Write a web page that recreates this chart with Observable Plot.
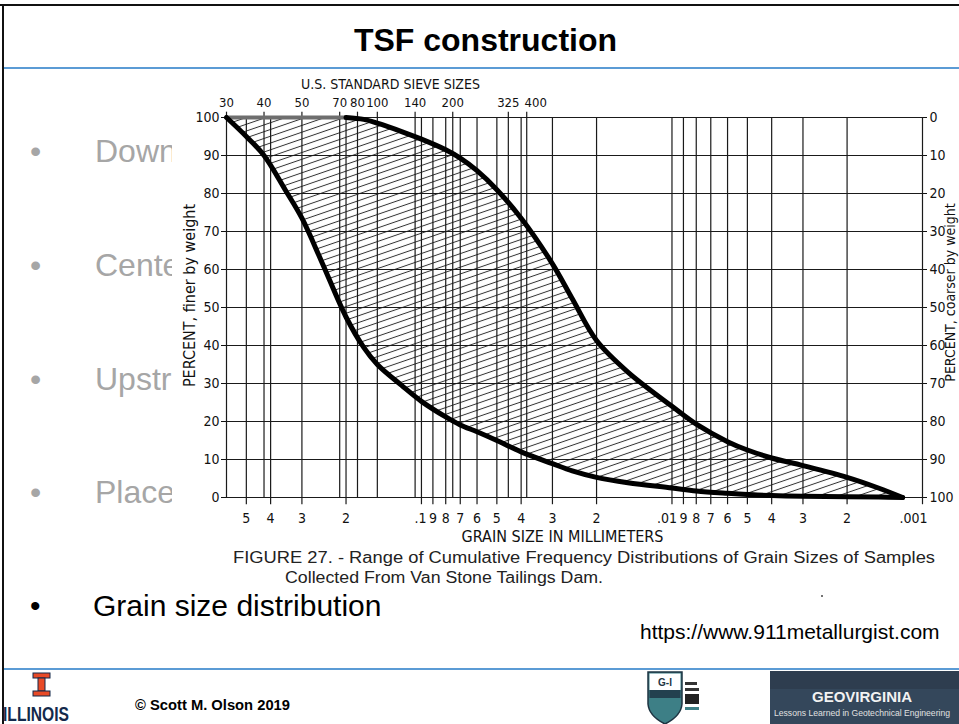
<!DOCTYPE html>
<html><head><meta charset="utf-8">
<script src="https://cdn.jsdelivr.net/npm/d3@7"></script>
<script src="https://cdn.jsdelivr.net/npm/@observablehq/plot@0.6"></script>
<style>
body{margin:0;background:#fff;}
#slide{position:relative;width:959px;height:724px;overflow:hidden;background:#fff;font-family:"Liberation Sans",Arial,sans-serif;}
.abs{position:absolute;white-space:nowrap;}
.gb{color:#a6a6a6;font-size:32px;line-height:32px;}
#chart{width:800px;height:473px;}
#chart svg{max-width:none;display:block;}
</style></head><body>
<svg width="0" height="0" style="position:absolute">
  <defs>
    <pattern id="hatch" patternUnits="userSpaceOnUse" width="20" height="6.4" patternTransform="rotate(-19)">
      <line x1="0" y1="3.2" x2="20" y2="3.2" stroke="#333" stroke-width="1"/>
    </pattern>
  </defs>
</svg>
<div id="slide">
  <div class="abs" style="left:0;top:4px;width:959px;height:2px;background:#111"></div>
  <div class="abs" style="left:2px;top:4px;width:2px;height:720px;background:#111"></div>
  <div class="abs" style="left:6px;top:24px;width:959px;text-align:center;font-weight:bold;font-size:32px;line-height:32px;color:#000">TSF construction</div>
  <div class="abs" style="left:4px;top:67px;width:955px;height:2px;background:#5b9bd5"></div>

  <div class="abs gb" style="left:30px;top:135px">•</div><div class="abs gb" style="left:95px;top:135px">Down</div>
  <div class="abs gb" style="left:30px;top:249px">•</div><div class="abs gb" style="left:95px;top:249px">Cente</div>
  <div class="abs gb" style="left:30px;top:363px">•</div><div class="abs gb" style="left:95px;top:363px">Upstr</div>
  <div class="abs gb" style="left:30px;top:476px">•</div><div class="abs gb" style="left:95px;top:476px">Place</div>

  <div id="chart" class="abs" style="left:172px;top:72px"></div>

  <svg class="abs" style="left:0;top:540px" width="959" height="60">
    <text x="233" y="23" font-family="Liberation Sans, Arial, sans-serif" font-size="16" fill="#222" textLength="702" lengthAdjust="spacingAndGlyphs">FIGURE 27. - Range of Cumulative Frequency Distributions of Grain Sizes of Samples</text>
    <text x="285" y="43" font-family="Liberation Sans, Arial, sans-serif" font-size="16" fill="#222" textLength="318" lengthAdjust="spacingAndGlyphs">Collected From Van Stone Tailings Dam.</text>
    <circle cx="822" cy="56" r="1" fill="#444"/>
  </svg>

  <div class="abs" style="left:30px;top:591px;font-size:30px;line-height:30px;color:#000">•</div>
  <div class="abs" style="left:93px;top:591px;font-size:30px;line-height:30px;color:#000">Grain size distribution</div>
  <div class="abs" style="left:640px;top:621px;font-size:21px;line-height:21px;color:#000">https://www.911metallurgist.com</div>

  <div class="abs" style="left:4px;top:668px;width:955px;height:2px;background:#5b9bd5"></div>

  <svg class="abs" style="left:0;top:660px" width="959" height="64">
    <g fill="#E84A27" stroke="#13294B" stroke-width="1">
      <rect x="33" y="13" width="17" height="5"/>
      <rect x="38" y="18" width="7" height="13"/>
      <rect x="33" y="31" width="17" height="5"/>
    </g>
    <text x="3" y="61" font-family="Liberation Sans, sans-serif" font-weight="bold" font-size="20" fill="#13294B" textLength="66" lengthAdjust="spacingAndGlyphs">ILLINOIS</text>
    <text x="135" y="50" font-family="Liberation Sans, Arial, sans-serif" font-weight="bold" font-size="14" fill="#000" textLength="155" lengthAdjust="spacingAndGlyphs">© Scott M. Olson 2019</text>
    <path d="M648,12 L682,12 L682,44 Q681,56 665,64 Q649,56 648,44 Z" fill="#3d7f86" stroke="#1e3442" stroke-width="1.5"/>
    <path d="M649.5,13.5 L680.5,13.5 L680.5,30 L649.5,30 Z" fill="#fff"/>
    <path d="M649.5,30 L680.5,30 L680.5,38 L649.5,38 Z" fill="#23404f"/>
    <text x="665" y="26" text-anchor="middle" font-family="Liberation Sans, sans-serif" font-weight="bold" font-size="10" fill="#1e3442">G-I</text>
    <rect x="685" y="22" width="12" height="3" fill="#333"/>
    <rect x="685" y="28" width="14" height="3" fill="#333"/>
    <rect x="685" y="34" width="14" height="10" fill="#222"/>
    <rect x="685" y="47" width="14" height="3" fill="#3d7f86"/>
    <rect x="770" y="11" width="189" height="53" fill="#34475b"/>
    <rect x="770" y="11" width="189" height="18" fill="#2e3d4f"/>
    <text x="862" y="42" text-anchor="middle" font-family="Liberation Sans, sans-serif" font-weight="bold" font-size="15" fill="#f2f2f2">GEOVIRGINIA</text>
    <text x="774" y="56" font-family="Liberation Sans, sans-serif" font-size="9" fill="#e0e0e0" textLength="176" lengthAdjust="spacingAndGlyphs">Lessons Learned in Geotechnical Engineering</text>
  </svg>
</div>
<script>
// grain diameters (mm) at which both curves are read
const diameters = [0.6, 0.5, 0.425, 0.35, 0.3, 0.25, 0.2, 0.17, 0.15, 0.12, 0.1, 0.08, 0.07, 0.06, 0.05, 0.04, 0.03, 0.025, 0.02, 0.015, 0.01, 0.008, 0.006, 0.005, 0.004, 0.003, 0.002, 0.0015, 0.0012];
// percent finer — coarse (left) envelope
const coarsePct = [100, 95, 90, 81, 73.5, 62, 47.5, 39.5, 35, 29.5, 25.3, 21.2, 19.1, 17.3, 15, 12, 8.9, 7, 5.3, 3.9, 2.5, 1.7, 1.1, 0.8, 0.5, 0.3, 0.2, 0.1, 0];
// percent finer — fine (right) envelope
const finePct = [100, 100, 100, 100, 100, 100, 100, 99.5, 98.5, 96.3, 94.3, 91.5, 89.3, 86, 81, 73.5, 61.5, 52.3, 41.3, 33, 24, 19.3, 14.7, 12.5, 10.4, 8.4, 5.3, 2.5, 0];

// axes
const pctTicks = [0, 10, 20, 30, 40, 50, 60, 70, 80, 90, 100];
const mmDigitTicks = [0.5, 0.4, 0.3, 0.2, 0.09, 0.08, 0.07, 0.06, 0.05, 0.04, 0.03, 0.02, 0.009, 0.008, 0.007, 0.006, 0.005, 0.004, 0.003, 0.002];
const mmDigitLabels = ["5", "4", "3", "2", "9", "8", "7", "6", "5", "4", "3", "2", "9", "8", "7", "6", "5", "4", "3", "2"];
const mmDecadeTicks = [0.1, 0.01, 0.001];
const mmDecadeLabels = [".1", ".01", ".001"];
const sieveMm = [0.6, 0.425, 0.3, 0.212, 0.18, 0.15, 0.106, 0.075, 0.045, 0.038];
const sieveLabels = ["30", "40", "50", "70", "80", "100", "140", "200", "325", "400"];

const rows = diameters.map((d, i) => ({d, coarse: coarsePct[i], fine: finePct[i]}));
const mmTicks = [...mmDigitTicks, ...mmDecadeTicks];
const gridX = Array.from(new Set([...sieveMm, ...mmTicks]));
const sieveMain = sieveMm.slice(0, -1), sieveLast = sieveMm.slice(-1);
const chartFont = '"Liberation Sans Narrow","DejaVu Sans Condensed","Liberation Sans",sans-serif';
const curve = "catmull-rom";

const chart = Plot.plot({
  width: 800,
  height: 473,
  marginTop: 45,
  marginBottom: 48,
  marginLeft: 54,
  marginRight: 50,
  style: {background: "white", fontFamily: chartFont, fontSize: "14px", color: "#111", overflow: "visible"},
  x: {type: "log", domain: [0.6, 0.001], axis: null},
  y: {domain: [0, 100], axis: null},
  marks: [
    Plot.areaY(rows, {x: "d", y1: "coarse", y2: "fine", fill: "url(#hatch)", curve}),
    Plot.ruleX(gridX, {stroke: "#1a1a1a", strokeWidth: 1.2}),
    Plot.ruleY(pctTicks, {stroke: "#1a1a1a", strokeWidth: 1.2}),
    Plot.axisY(pctTicks, {anchor: "left", tickSize: 5, tickPadding: 2, label: null, fontSize: 14}),
    Plot.axisY(pctTicks, {anchor: "right", tickSize: 4, tickPadding: 3, label: null, fontSize: 14, tickFormat: d => String(100 - d)}),
    // bottom ticks and labels (mm)
    Plot.ruleX(mmTicks, {y1: 0, y2: -1.9, stroke: "#1a1a1a", strokeWidth: 1.2}),
    Plot.text(mmDigitTicks, {x: d => d, frameAnchor: "bottom", lineAnchor: "middle", dy: 21, text: (d, i) => mmDigitLabels[i], fontSize: 14}),
    Plot.text(mmDecadeTicks, {x: d => d, frameAnchor: "bottom", textAnchor: "end", lineAnchor: "middle", dx: 5, dy: 21, text: (d, i) => mmDecadeLabels[i], fontSize: 14}),
    // top ticks and labels (sieve numbers)
    Plot.ruleX(sieveMm, {y1: 100, y2: 101.4, stroke: "#1a1a1a", strokeWidth: 1.2}),
    Plot.text(sieveMain, {x: d => d, frameAnchor: "top", lineAnchor: "middle", dy: -15, text: (d, i) => sieveLabels[i], fontSize: 13}),
    Plot.text(sieveLast, {x: d => d, frameAnchor: "top", lineAnchor: "middle", dx: 9, dy: -15, text: () => sieveLabels[sieveLabels.length - 1], fontSize: 13}),
    Plot.line(rows.filter(r => r.d >= 0.2), {x: "d", y: "fine", stroke: "#6e6e6e", strokeWidth: 4}),
    Plot.line(rows.filter(r => r.d <= 0.2), {x: "d", y: "fine", stroke: "#000", strokeWidth: 5, curve}),
    Plot.line(rows, {x: "d", y: "coarse", stroke: "#000", strokeWidth: 5, curve}),
    Plot.text(["U.S. STANDARD SIEVE SIZES"], {frameAnchor: "top", textAnchor: "middle", lineAnchor: "middle", dx: -184, dy: -33, fontSize: 14}),
    Plot.text(["GRAIN SIZE IN MILLIMETERS"], {frameAnchor: "bottom", textAnchor: "middle", lineAnchor: "middle", dx: -12, dy: 39, fontSize: 16}),
    Plot.text(["PERCENT, finer by weight"], {frameAnchor: "left", rotate: -90, textAnchor: "middle", lineAnchor: "middle", dx: -37, dy: -12, fontSize: 16}),
    Plot.text(["PERCENT, coarser by weight"], {frameAnchor: "right", rotate: -90, textAnchor: "middle", lineAnchor: "middle", dx: 28, dy: -15, fontSize: 14})
  ]
});
document.getElementById("chart").appendChild(chart);
</script>
</body></html>
